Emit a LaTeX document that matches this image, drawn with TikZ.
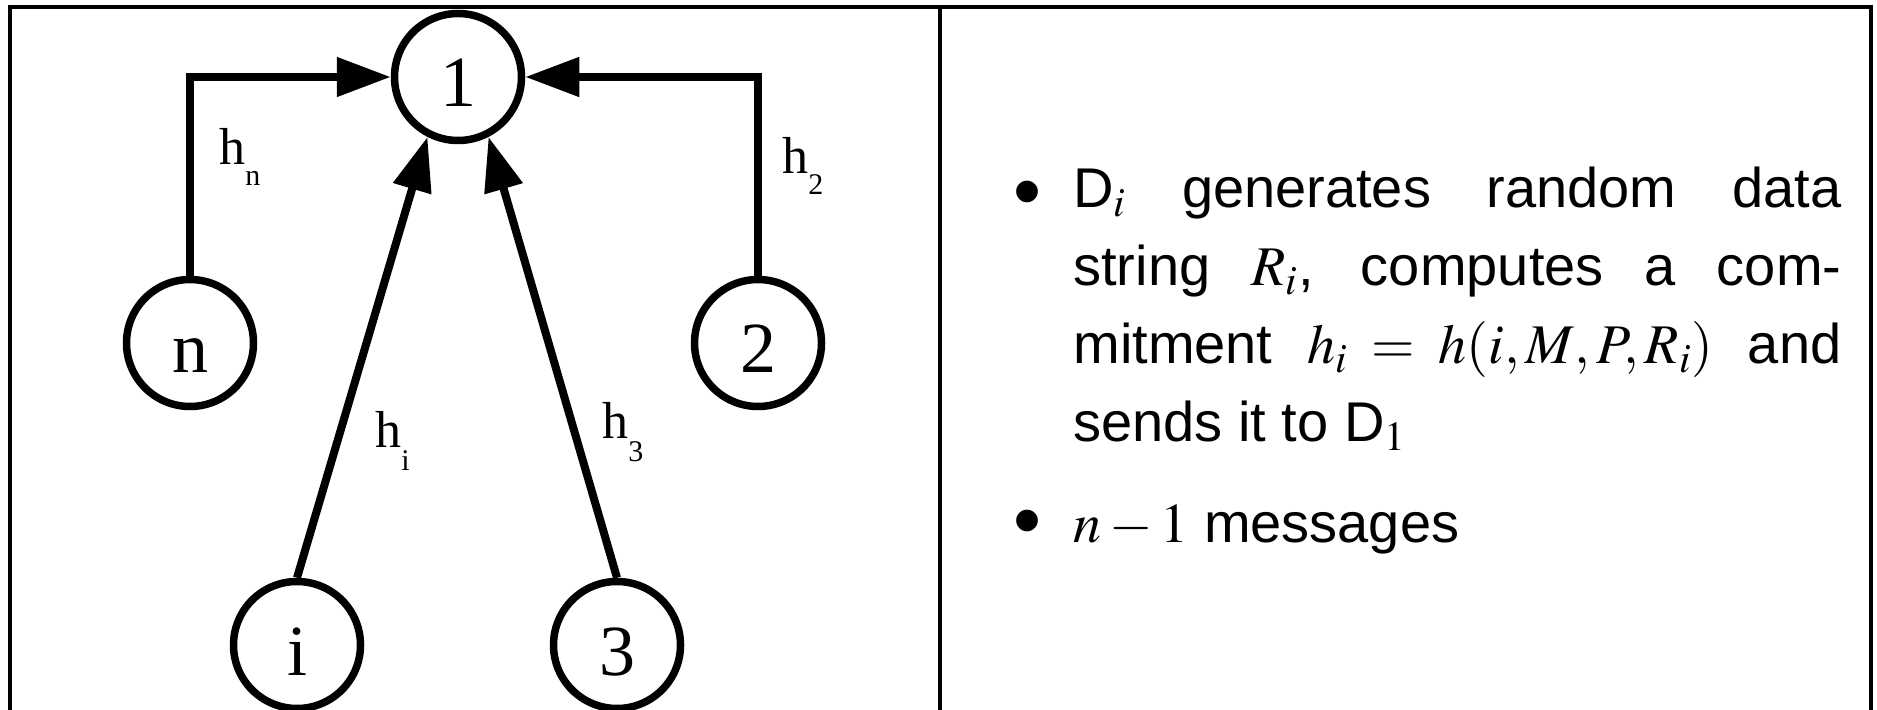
\documentclass[tikz,border=0pt]{standalone}
\usepackage{mathptmx}
\usepackage{fontspec}
\setmainfont{Liberation Serif}
\newfontfamily\sansf{Liberation Sans}
\usetikzlibrary{arrows.meta}
% subscript of an edge label, set low beside the letter
\newcommand\lowsub[2][11pt]{\raisebox{-#1}{\fontsize{15}{15}\selectfont #2}}

\begin{document}
\begin{tikzpicture}[x=0.5pt,y=-0.5pt,
  peer/.style={circle,draw,line width=3.75pt,minimum size=63.5pt,inner sep=0pt,
    text height=30pt,text depth=0pt,font=\fontsize{36}{36}\selectfont},
  msg/.style={line width=4pt,-{Triangle[length=27pt,width=19pt]}},
  lbl/.style={inner sep=0pt,anchor=base west,font=\fontsize{26}{26}\selectfont},
  panel/.style={line width=1.75pt},
  txt/.style={inner sep=0pt,anchor=base west,font=\sansf\fontsize{28}{39}\selectfont},
  bul/.style={inner sep=0pt,font=\sansf\fontsize{40}{40}\selectfont},
]
\useasboundingbox (0,0) rectangle (1877,710);

% two panels side by side
\draw[panel] (10,730) -- (10,7) -- (1871,7) -- (1871,730);
\draw[panel] (940,7) -- (940,730);

% participants
\node[peer] (p1) at (458,77) {1};
\node[peer] (pn) at (190,343) {n};
\node[peer] (p2) at (758,343) {2};
\node[peer] (pi) at (297,645) {i};
\node[peer] (p3) at (617,645) {3};

% commitments sent to participant 1
\draw[msg] (pn.north) |- (p1.west);
\draw[msg] (p2.north) |- (p1.east);
\draw[msg] (pi.north) -- (p1.243);
\draw[msg] (p3.north) -- (p1.297);

\node[lbl] (ln) at (219,165) {h\lowsub[10.5pt]{n}};
\node[lbl] (l2) at (782,174) {h\lowsub[10.5pt]{2}};
\node[lbl] (li) at (375,448) {h\lowsub[11.5pt]{i}};
\node[lbl] (l3) at (602,439) {h\lowsub[11.5pt]{3}};

% description
\node[bul] (b1) at (1027,200) {\textbullet};
\node[txt] (t1) at (1073,208) {\makebox[384pt][s]{D$_i$ generates random data}};
\node[txt] (t2) at (1073,286) {\makebox[384pt][s]{string $R_i$, computes a com-}};
\node[txt] (t3) at (1073,364) {\makebox[384pt][s]{mitment $h_i=h(i,M,P,R_i)$ and}};
\node[txt] (t4) at (1073,442) {sends it to D$_1$};
\node[bul] (b2) at (1027,529) {\textbullet};
\node[txt] (t5) at (1073,542) {$n-1$ messages};
\end{tikzpicture}
\end{document}
